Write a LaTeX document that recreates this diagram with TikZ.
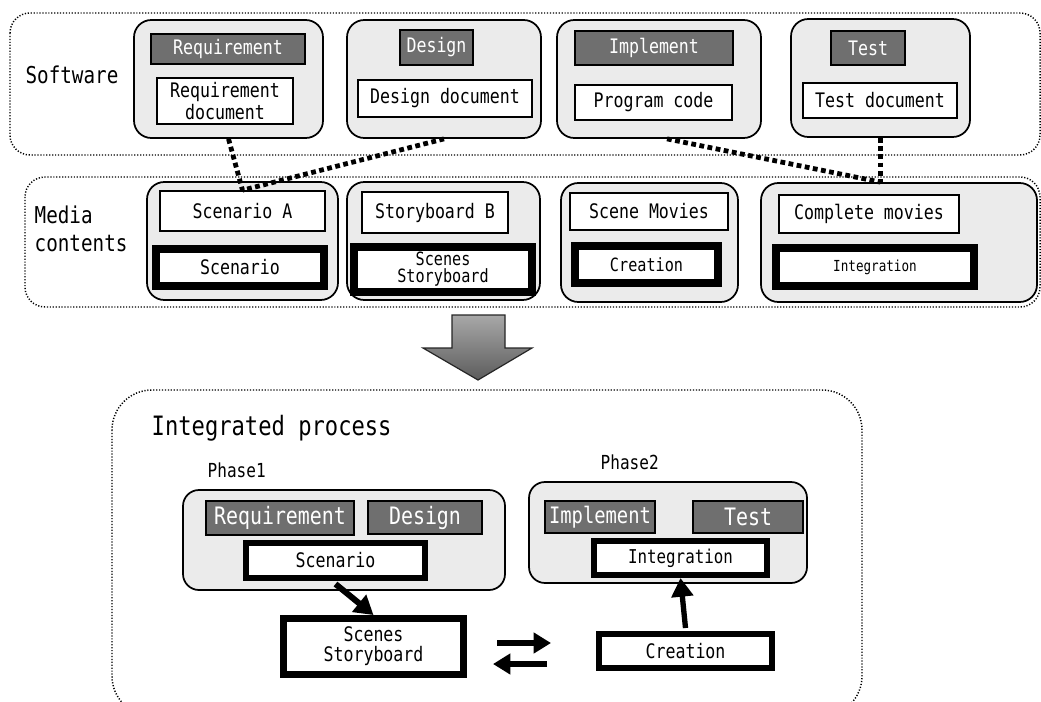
\documentclass[tikz,border=0pt]{standalone}
\usepackage{fontspec}
\setmainfont[FakeStretch=0.83]{DejaVu Sans Mono}
\usetikzlibrary{arrows.meta,calc}
\definecolor{grp}{HTML}{EBEBEB}
\definecolor{drk}{HTML}{6F6F6F}
\definecolor{arrtop}{HTML}{A8A8A8}
\definecolor{arrbot}{HTML}{5C5C5C}
\begin{document}
\begin{tikzpicture}[x=0.75pt,y=-0.75pt,
  wh/.style 2 args={minimum width=#1*0.75pt,minimum height=#2*0.75pt},
  outerbox/.style={draw, line width=1.1pt, dash pattern=on 0.9pt off 1.3pt},
  grpbox/.style={draw, line width=1.3pt, fill=grp, rounded corners=13pt, inner sep=0pt},
  darkbox/.style={draw, line width=1pt, fill=drk, text=white, inner sep=0pt},
  docbox/.style={draw, line width=1.2pt, fill=white, inner sep=0pt, align=center},
  thickbox/.style={draw, line width=#1, fill=white, inner sep=0pt, align=center},
  link/.style={line width=3.6pt, dash pattern=on 3.6pt off 2.6pt},
  bigarrow/.style={line width=#1, -{Triangle[length=14pt,width=16pt]}},
  fA/.style={font=\fontsize{15}{16}\selectfont},
  fL/.style={font=\fontsize{17.4}{21}\selectfont},
  fS/.style={font=\fontsize{13.7}{12.8}\selectfont},
  fI/.style={font=\fontsize{11.4}{13}\selectfont},
  fP/.style={font=\fontsize{18}{20}\selectfont},
  fT/.style={font=\fontsize{20}{22}\selectfont},
  fPh/.style={font=\fontsize{14.5}{16}\selectfont},
]
\useasboundingbox (0,0) rectangle (1041,702);

% outer dotted regions
\draw[outerbox, rounded corners=15pt] (10,13) rectangle (1040,155);
\draw[outerbox, rounded corners=15pt] (25,177) rectangle (1040,307);
\draw[outerbox, rounded corners=30pt] (112,390) rectangle (862,716);

% Software row
\node[fL] (sw) at (72,75) {Software};
\node[grpbox, wh={189}{118}] (g1) at (228.5,79) {};
\node[grpbox, wh={194}{118}] (g2) at (444,79) {};
\node[grpbox, wh={204}{118}] (g3) at (659,79) {};
\node[grpbox, wh={179}{118}] (g4) at (880.5,78) {};
\node[darkbox, fA, wh={154}{30}] (d1) at (228,49) {Requirement};
\node[darkbox, fA, wh={73}{35}] (d2) at (436.5,47.5) {Design};
\node[darkbox, fA, wh={158}{34}] (d3) at (654,48) {Implement};
\node[darkbox, fA, wh={74}{34}] (d4) at (868,48) {Test};
\node[docbox, fA, wh={136}{46}] (rdoc) at (225,101) {Requirement\\document};
\node[docbox, fA, wh={174}{37}] (ddoc) at (445,98.5) {Design document};
\node[docbox, fA, wh={157}{35}] (pcode) at (653.5,102.5) {Program code};
\node[docbox, fA, wh={154}{35}] (tdoc) at (880,100.5) {Test document};

% Media contents row
\node[fL, align=left, anchor=west] (mc) at (30,229) {Media\\contents};
\node[grpbox, wh={191}{118}] (m1) at (242.5,241) {};
\node[grpbox, wh={193}{118}] (m2) at (443.5,241) {};
\node[grpbox, wh={177}{119}] (m3) at (649.5,242.5) {};
\node[grpbox, wh={276}{119}] (m4) at (899,242.5) {};
\node[docbox, fA, wh={165}{40}] (sca) at (242.5,211) {Scenario A};
\node[docbox, fA, wh={146}{41}] (sbb) at (435,212.5) {Storyboard B};
\node[docbox, fA, wh={158}{37}] (smv) at (649,211.5) {Scene Movies};
\node[docbox, fA, wh={180}{38}] (cmv) at (869,214) {Complete movies};
\node[thickbox=6pt, fA, wh={168}{37}] (scen) at (240,267.5) {Scenario};
\node[thickbox=6pt, fS, wh={178}{45}] (ssb) at (443,269.5) {Scenes\\Storyboard};
\node[thickbox=6pt, fS, wh={143}{37}] (cre) at (646.5,264.5) {Creation};
\node[thickbox=6pt, fI, wh={198}{38}] (integ) at (875,267) {Integration};

% dotted links
\draw[link] (g1.south) -- (sca.north);
\draw[link] (g2.south) -- (sca.north);
\draw[link] ($(g3.south)+(8,0)$) -- (g4.south |- m4.north);
\draw[link] (g4.south) -- (g4.south |- m4.north);

% big arrow
\shadedraw[top color=arrtop, bottom color=arrbot, draw=black!85, line width=0.9pt]
  (452,315) -- (505,315) -- (505,348) -- (532,348) -- (478,380) -- (423,348) -- (452,348) -- cycle;

% Integrated process
\node[fT, anchor=west] (ip) at (147,428) {Integrated process};
\node[fPh, anchor=west] (ph1) at (203,470) {Phase1};
\node[fPh, anchor=west] (ph2) at (596,462) {Phase2};

\node[grpbox, rounded corners=12pt, wh={322}{100}] (p1) at (344,540) {};
\node[darkbox, fP, wh={148}{34}] (p1r) at (280,518) {Requirement};
\node[darkbox, fP, wh={114}{33}] (p1d) at (425,517.5) {Design};
\node[thickbox=4.5pt, fA, wh={179}{35}] (p1s) at (335.5,560.5) {Scenario};
\node[thickbox=5.2pt, fA, font=\fontsize{15}{15}\selectfont, wh={180}{56}] (p1ss) at (373.5,646.5) {Scenes\\Storyboard};

\node[grpbox, rounded corners=12pt, wh={278}{101}] (p2) at (668,532.5) {};
\node[darkbox, fP, font=\fontsize{17}{19}\selectfont, wh={110}{32}] (p2i) at (600,517) {Implement};
\node[darkbox, fP, wh={110}{32}] (p2t) at (748,517) {Test};
\node[thickbox=4.5pt, fA, font=\fontsize{14.3}{16}\selectfont, wh={173}{34}] (p2int) at (680.5,558) {Integration};
\node[thickbox=4.5pt, fA, wh={173}{34}] (p2cre) at (685.5,651) {Creation};

\draw[bigarrow=4.5pt] ($(p1s.south)+(0,3)$) -- (p1ss.north);
\draw[bigarrow=4pt] ($(p2cre.north)+(0,-3)$) -- (p2int.south);

\coordinate (xr1) at (497,643);
\coordinate (xr2) at (551,643);
\coordinate (xl1) at (547,664);
\coordinate (xl2) at (493,664);
\draw[line width=5.2pt, -{Triangle[length=13pt,width=15pt]}] (xr1) -- (xr2);
\draw[line width=5.2pt, -{Triangle[length=13pt,width=15pt]}] (xl1) -- (xl2);
\end{tikzpicture}
\end{document}
